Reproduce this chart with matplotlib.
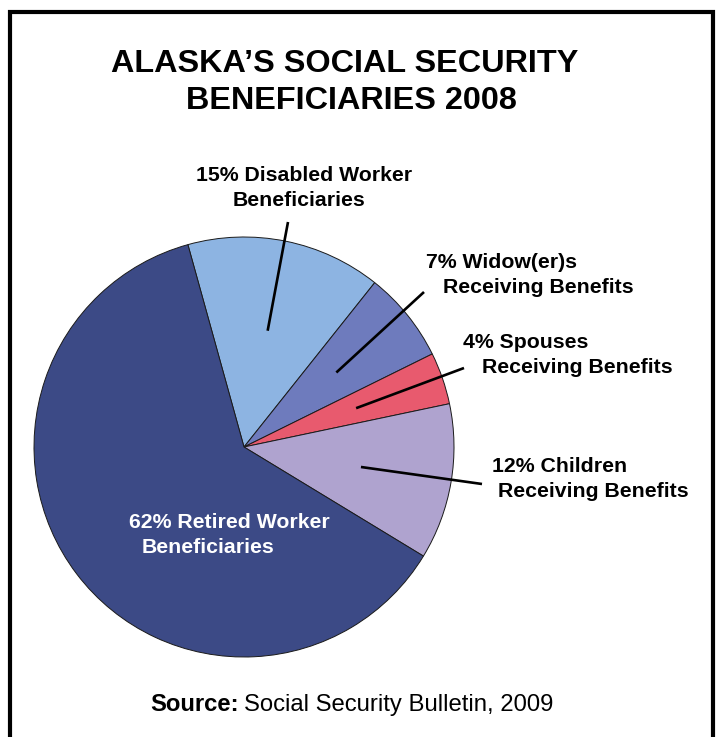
import numpy as np
import matplotlib
matplotlib.use("Agg")
import matplotlib.pyplot as plt

# ---- data ----
categories = ["Disabled Worker Beneficiaries", "Widow(er)s Receiving Benefits",
              "Spouses Receiving Benefits", "Children Receiving Benefits",
              "Retired Worker Beneficiaries"]
shares = [15, 7, 4, 12, 62]
label_line1 = ["15% Disabled Worker", "7% Widow(er)s", "4% Spouses", "12% Children", "62% Retired Worker"]
label_line2 = ["Beneficiaries", "Receiving Benefits", "Receiving Benefits", "Receiving Benefits", "Beneficiaries"]
colors = ["#8DB4E2", "#6E7BBD", "#E85A6E", "#AFA3CF", "#3C4A86"]

W, H = 720, 737
plt.rcParams['font.family'] = ['Liberation Sans', 'DejaVu Sans']

fig = plt.figure(figsize=(W / 100, H / 100), dpi=100)
ax = fig.add_axes([0, 0, 1, 1])

def Y(py):
    return H - py

cx, cy, R = 244, Y(447), 210
wedges, _ = ax.pie(shares, colors=colors, startangle=105.5, counterclock=False,
                   center=(cx, cy), radius=R,
                   wedgeprops=dict(edgecolor="#1a1a1a", linewidth=0.7))
ax.set_xlim(0, W)
ax.set_ylim(0, H)
ax.set_aspect('auto')
ax.axis('off')

# frame (top, left, right)
ax.plot([10, 10, 712.5, 712.5], [0, Y(12), Y(12), 0], color='black', lw=3.0,
        solid_joinstyle='miter', clip_on=False)

# title
ax.text(345, Y(72), "ALASKA\u2019S SOCIAL SECURITY", ha='center', va='baseline',
        fontsize=23.3, fontweight='bold')
ax.text(351, Y(109), "BENEFICIARIES 2008", ha='center', va='baseline',
        fontsize=23.3, fontweight='bold')

fs = 15.3
# label text layout (pixel positions)
lab = [
    dict(x1=304.5, y1=181, x2=299.5, y2=206, ha='center', outer=(288, 222)),
    dict(x1=426, y1=268, x2=443, y2=293, ha='left', outer=(424, 292)),
    dict(x1=463, y1=348, x2=482, y2=373, ha='left', outer=(464, 368)),
    dict(x1=492, y1=472, x2=498, y2=497, ha='left', outer=(482, 484)),
    dict(x1=129, y1=528, x2=142, y2=553, ha='left', outer=None),
]
for i, (w, L) in enumerate(zip(wedges, lab)):
    col = 'white' if i == 4 else 'black'
    ax.text(L['x1'], Y(L['y1']), label_line1[i], ha=L['ha'], va='baseline',
            fontsize=fs, fontweight='bold', color=col)
    ax.text(L['x2'], Y(L['y2']), label_line2[i], ha=L['ha'], va='baseline',
            fontsize=fs, fontweight='bold', color=col)
    if L['outer'] is not None:
        mid = np.deg2rad((w.theta1 + w.theta2) / 2)
        ix = cx + 0.565 * R * np.cos(mid)
        iy = cy + 0.565 * R * np.sin(mid)
        ox, oy = L['outer']
        ax.plot([ix, ox], [iy, Y(oy)], color='black', lw=1.9, solid_capstyle='butt')

# source
sfs = 17.2
t1 = ax.text(150, Y(711), "Source:", ha='left', va='baseline', fontsize=sfs, fontweight='bold')
fig.canvas.draw()
bb = t1.get_window_extent()
ax.text(bb.x1 + 5, Y(711), "Social Security Bulletin, 2009", ha='left', va='baseline', fontsize=sfs)

fig.savefig("out.png", dpi=100, facecolor='white')
